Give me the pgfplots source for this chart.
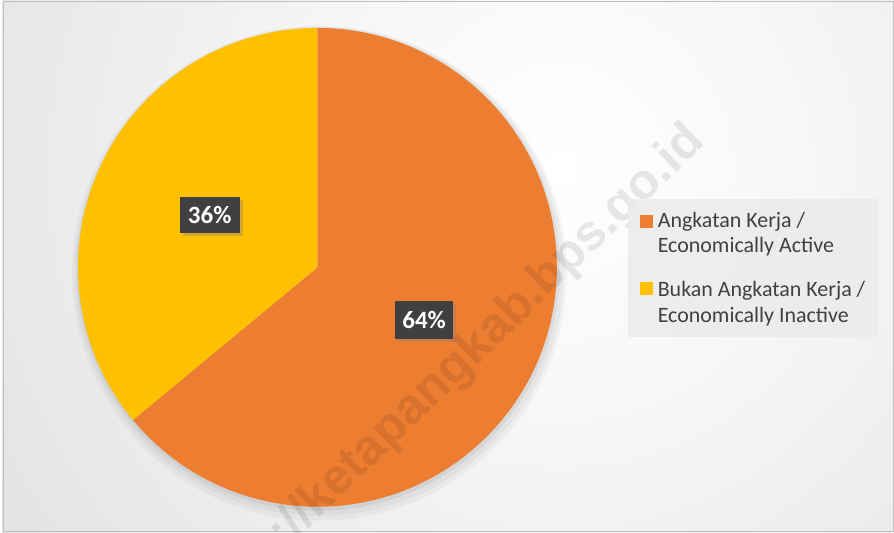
\documentclass[border=0pt]{standalone}
\usepackage{pgfplots}
\pgfplotsset{compat=1.18}
\usepackage{pgfplotstable}
\usepackage{fontspec}
\setmainfont{Carlito}
\newfontfamily\wmfont{Liberation Sans}
\usetikzlibrary{shadows}
\definecolor{orangeC}{HTML}{ED7D31}
\definecolor{yellowC}{HTML}{FFC000}
\definecolor{txt}{HTML}{404040}
\definecolor{lbl}{HTML}{404040}
\pgfdeclareradialshading{bgshade}{\pgfpoint{0bp}{0bp}}{color(0bp)=(white); color(7bp)=(white!97!black); color(38bp)=(black!22!white); color(50bp)=(black!26!white)}

\pgfplotstableread{
label value
active 64
inactive 36
}\piedata

\begin{document}
\pgfplotstablegetelem{0}{value}\of\piedata \let\va\pgfplotsretval
\pgfplotstablegetelem{1}{value}\of\piedata \let\vb\pgfplotsretval
\pgfmathsetmacro{\angA}{90-3.6*\va}
\begin{tikzpicture}
\begin{axis}[
  width=894bp, height=534bp, scale only axis,
  xmin=0, xmax=894, ymin=0, ymax=534,
  hide axis, clip=false
]
% background
\begin{scope}
\clip (axis cs:0,0) rectangle (axis cs:894,534);
\fill[black!22] (axis cs:0,0) rectangle (axis cs:894,534);
\shade[shading=bgshade] (axis cs:560,364) circle (840bp);
% pie shadow
\fill[black, opacity=0.035] (axis cs:318,260) circle (248bp);
\fill[black, opacity=0.04] (axis cs:318,262) circle (245bp);
\fill[black, opacity=0.05] (axis cs:317,264) circle (242bp);
\end{scope}
\draw[black!25, line width=1bp] (axis cs:1.5,1) rectangle (axis cs:893,532.5);
% pie
\fill[orangeC] (axis cs:316,266) -- ++(90:240bp) arc[start angle=90, end angle=\angA, radius=240bp] -- cycle;
\fill[yellowC] (axis cs:316,266) -- ++(\angA:240bp) arc[start angle=\angA, end angle=-270, radius=240bp] -- cycle;
% watermark
\begin{scope}
\clip (axis cs:0,0) rectangle (axis cs:894,534);
\node[rotate=44, opacity=0.09, text=black, font=\wmfont\bfseries\fontsize{50bp}{50bp}\selectfont, anchor=base east, inner sep=0pt] at (axis cs:706,390) {https://ketapangkab.bps.go.id};
\end{scope}
% data labels
\node[fill=lbl, text=white, font=\bfseries\fontsize{25bp}{28bp}\selectfont, minimum width=60bp, minimum height=36bp, inner sep=0pt, drop shadow={opacity=0.35, shadow xshift=3bp, shadow yshift=-3bp}] at (axis cs:208,318) {\vb\%};
\node[fill=lbl, text=white, font=\bfseries\fontsize{25bp}{28bp}\selectfont, minimum width=58bp, minimum height=38bp, inner sep=0pt, drop shadow={opacity=0.35, shadow xshift=3bp, shadow yshift=-3bp}] at (axis cs:423,213) {\va\%};
% legend
\fill[white!92!black, opacity=0.85] (axis cs:627,334) rectangle (axis cs:879,196);
\fill[orangeC] (axis cs:639,318) rectangle (axis cs:652,305);
\fill[yellowC] (axis cs:639,251) rectangle (axis cs:652,238);
\begin{scope}[every node/.style={anchor=base west, inner sep=0pt, text=txt, font=\fontsize{22bp}{26bp}\selectfont}]
\node at (axis cs:657,306) {Angkatan Kerja /};
\node at (axis cs:657,281) {Economically Active};
\node at (axis cs:657,237) {Bukan Angkatan Kerja /};
\node at (axis cs:657,211) {Economically Inactive};
\end{scope}
\end{axis}
\pgfresetboundingbox
\path (current axis.south west) rectangle (current axis.north east);
\end{tikzpicture}
\end{document}
